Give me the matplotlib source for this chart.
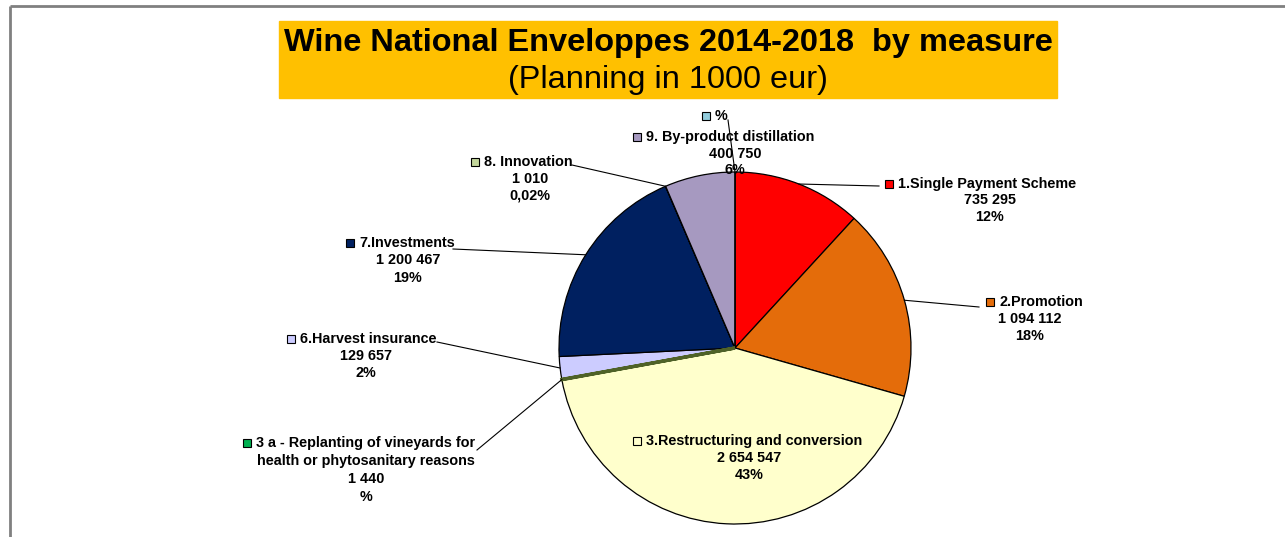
import matplotlib
matplotlib.use("Agg")
import matplotlib.pyplot as plt
from matplotlib.patches import Rectangle
import math

plt.rcParams['font.family'] = ['Liberation Sans', 'DejaVu Sans']

# Data (planning in 1000 eur), clockwise from the top
names = ['1.Single Payment Scheme', '2.Promotion', '3.Restructuring and conversion',
         '3 a - Replanting of vineyards for\nhealth or phytosanitary reasons',
         '6.Harvest insurance', '7.Investments', '8. Innovation',
         '9. By-product distillation', '']
values = [735295, 1094112, 2654547, 1440, 129657, 1200467, 1010, 400750, 0]
value_labels = ['735 295', '1 094 112', '2 654 547', '1 440', '129 657',
                '1 200 467', '1 010', '400 750', '']
pct_labels = ['12%', '18%', '43%', '%', '2%', '19%', '0,02%', '6%', '%']
slice_colors = ['#ff0000', '#e46c0a', '#ffffcc', '#4f6228', '#ccccff',
                '#002060', '#c3d69b', '#a699c0', '#93cddd']
marker_colors = ['#ff0000', '#e46c0a', '#ffffcc', '#00b050', '#ccccff',
                 '#002060', '#c3d69b', '#a699c0', '#93cddd']

# label layout in pixels: (text centre x, first line y, marker x, line step, leader start or None)
layout = [
    (990, 184, 889, 16.5, (879, 186)),
    (1030, 302, 990, 17, (979, 307)),
    (749, 441, 637, 17, None),
    (366, 443, 247, 18, (477, 450)),
    (366, 339, 291, 17, (437, 342)),
    (408, 243, 350, 17.5, (453, 249)),
    (530, 162, 475, 17, (572, 165)),
    (735, 137, 637, 16.5, None),
    (721, 116, 706, 17, (728, 120)),
]

W, H = 1285, 537
cx, cy, r = 735, 348, 176
fs = 10.4

fig = plt.figure(figsize=(W / 100, H / 100), dpi=100)
ax = fig.add_axes([0, 0, 1, 1])

wedges, _ = ax.pie(values, colors=slice_colors, startangle=-90, counterclock=True,
                   center=(cx, cy), radius=r, frame=False,
                   wedgeprops=dict(edgecolor='black', linewidth=0.9))
# the 3a slice is only a sliver; give it a visible olive edge like the original
wedges[3].set_edgecolor('#4f6228')
wedges[3].set_linewidth(2.4)
wedges[3].set_zorder(1.5)
ax.set_xlim(0, W)
ax.set_ylim(H, 0)
ax.set_aspect('equal')
ax.axis('off')

# outer frame (only top and left visible)
ax.plot([10, W], [6, 6], color='#808080', lw=2, solid_capstyle='butt')
ax.plot([10, 10], [6, H], color='#808080', lw=2, solid_capstyle='butt')

# title box
ax.add_patch(Rectangle((279, 21), 778, 77, color='#ffc000', zorder=1))
ax.text(668, 43, 'Wine National Enveloppes 2014-2018  by measure', ha='center',
        va='center', fontsize=23.4, fontweight='bold')
ax.text(668, 80, '(Planning in 1000 eur)', ha='center', va='center', fontsize=23.4)

total = sum(values)
cum = 0
for i, v in enumerate(values):
    mid = 2 * math.pi * (cum + v / 2) / total
    cum += v
    px = cx + r * math.sin(mid)
    py = cy - r * math.cos(mid)
    tx, ty, mx, step, lead = layout[i]
    if lead is not None:
        ax.plot([lead[0], px], [lead[1], py], color='black', lw=0.8, zorder=3)
    lines = [s for s in names[i].split('\n') + [value_labels[i], pct_labels[i]] if s]
    for k, s in enumerate(lines):
        if k == 0:
            # first line follows the legend key
            ax.text(mx + 9, ty, s, ha='left', va='center', fontsize=fs,
                    fontweight='bold', zorder=4)
        else:
            ax.text(tx, ty + k * step, s, ha='center', va='center', fontsize=fs,
                    fontweight='bold', zorder=4)
    ax.plot(mx, ty, marker='s', markersize=6, markerfacecolor=marker_colors[i],
            markeredgecolor='black', markeredgewidth=0.8, zorder=4)

fig.savefig('out.png', dpi=100)
